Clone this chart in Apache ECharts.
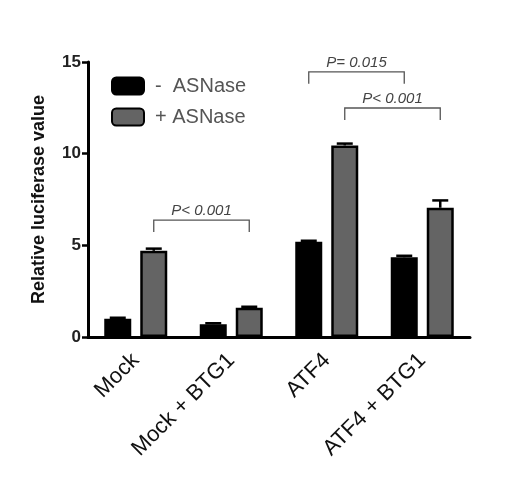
<!DOCTYPE html>
<html><head><meta charset="utf-8">
<script src="https://cdn.jsdelivr.net/npm/echarts@6/dist/echarts.min.js"></script>
<style>html,body{margin:0;padding:0;background:#fff}#c{width:520px;height:490px}</style>
</head><body><div id="c"></div>
<script>
const categories = ['Mock', 'Mock + BTG1', 'ATF4', 'ATF4 + BTG1'];
const seriesNames = ['-  ASNase', '+ ASNase'];
const minusValues = [1.0, 0.7, 5.2, 4.35];
const plusValues = [4.7, 1.6, 10.45, 7.05];
const minusErrors = [0.05, 0.05, 0.05, 0.08];
const plusErrors = [0.12, 0.05, 0.1, 0.4];
const yTicks = [0, 5, 10, 15];
// brackets: [category, seriesIndex] from -> to, level, text
const bracketFromCat = [0, 2, 2];
const bracketFromSer = [1, 0, 1];
const bracketToCat = [1, 3, 3];
const bracketToSer = [1, 0, 1];
const bracketLevel = [6.38, 14.46, 12.49];
const bracketText = ['P< 0.001', 'P= 0.015', 'P< 0.001'];

const BAR_W = 27, BAR_GAP = 9;
const OFF = (BAR_W + BAR_GAP) / 2;
const colors = ['#000000', '#646464'];
const FONT = '"Liberation Sans", Arial, sans-serif';

const chart = echarts.init(document.getElementById('c'));

function errSeries(vals, errs, sIdx) {
  return {
    type: 'custom', z: 5, silent: true,
    data: vals.map((v, i) => [i, v, errs[i]]),
    renderItem: function (params, api) {
      const i = api.value(0), v = api.value(1), e = api.value(2);
      const dx = sIdx === 0 ? -OFF : OFF;
      const p0 = api.coord([i, v]);
      const p1 = api.coord([i, v + e]);
      const x = p0[0] + dx;
      const half = 8;
      return {
        type: 'group',
        children: [
          {type: 'line', shape: {x1: x, y1: p0[1], x2: x, y2: p1[1]}, style: {stroke: '#000', lineWidth: 2.5}},
          {type: 'line', shape: {x1: x - half, y1: p1[1], x2: x + half, y2: p1[1]}, style: {stroke: '#000', lineWidth: 2.5}}
        ]
      };
    }
  };
}

const bracketSeries = {
  type: 'custom', z: 6, silent: true,
  data: bracketLevel.map((lv, k) => [bracketFromCat[k], bracketToCat[k], lv]),
  renderItem: function (params, api) {
    const k = params.dataIndex;
    const lv = api.value(2);
    const a = api.coord([api.value(0), lv]);
    const b = api.coord([api.value(1), lv]);
    const drop = api.coord([0, lv - 0.65])[1];
    const xa = a[0] + (bracketFromSer[k] === 0 ? -OFF : OFF);
    const xb = b[0] + (bracketToSer[k] === 0 ? -OFF : OFF);
    const y = a[1];
    return {
      type: 'group',
      children: [
        {type: 'polyline', shape: {points: [[xa, drop], [xa, y], [xb, y], [xb, drop]]}, style: {stroke: '#555', lineWidth: 1.3, fill: null}},
        {type: 'text', style: {text: bracketText[k], x: (xa + xb) / 2, y: y - 2, align: 'center', verticalAlign: 'bottom',
          font: 'italic 15px ' + FONT, fill: '#444'}}
      ]
    };
  }
};

chart.setOption({
  backgroundColor: '#fff',
  animation: false,
  grid: {left: 88, right: 50, top: 62, bottom: 153},
  legend: {
    orient: 'vertical', left: 106, top: 71, itemWidth: 32, itemHeight: 17, itemGap: 11,
    icon: 'roundRect',
    textStyle: {fontSize: 20, color: '#555', fontFamily: FONT, padding: [0, 0, 0, 6]},
    data: seriesNames
  },
  xAxis: {
    type: 'category', data: categories,
    axisLine: {lineStyle: {color: '#000', width: 3}},
    axisTick: {show: false},
    axisLabel: {rotate: 45, fontSize: 22, color: '#111', margin: 20, interval: 0, fontFamily: FONT}
  },
  yAxis: {
    type: 'value', min: 0, max: 15, interval: 5,
    name: 'Relative luciferase value', nameLocation: 'middle', nameGap: 40,
    nameTextStyle: {fontSize: 18, fontWeight: 'bold', color: '#111', fontFamily: FONT},
    splitLine: {show: false},
    axisLine: {show: true, lineStyle: {color: '#000', width: 3}},
    axisTick: {show: true, length: 6, lineStyle: {color: '#000', width: 2.5}},
    axisLabel: {fontSize: 17, fontWeight: 'bold', color: '#222', margin: 7, fontFamily: FONT}
  },
  series: [
    {name: seriesNames[0], type: 'bar', data: minusValues, barWidth: BAR_W, barGap: (BAR_GAP / BAR_W * 100) + '%',
      itemStyle: {color: colors[0], borderColor: '#000', borderWidth: 2.5}},
    {name: seriesNames[1], type: 'bar', data: plusValues, barWidth: BAR_W,
      itemStyle: {color: colors[1], borderColor: '#000', borderWidth: 2.5}},
    errSeries(minusValues, minusErrors, 0),
    errSeries(plusValues, plusErrors, 1),
    bracketSeries
  ]
});
</script></body></html>
